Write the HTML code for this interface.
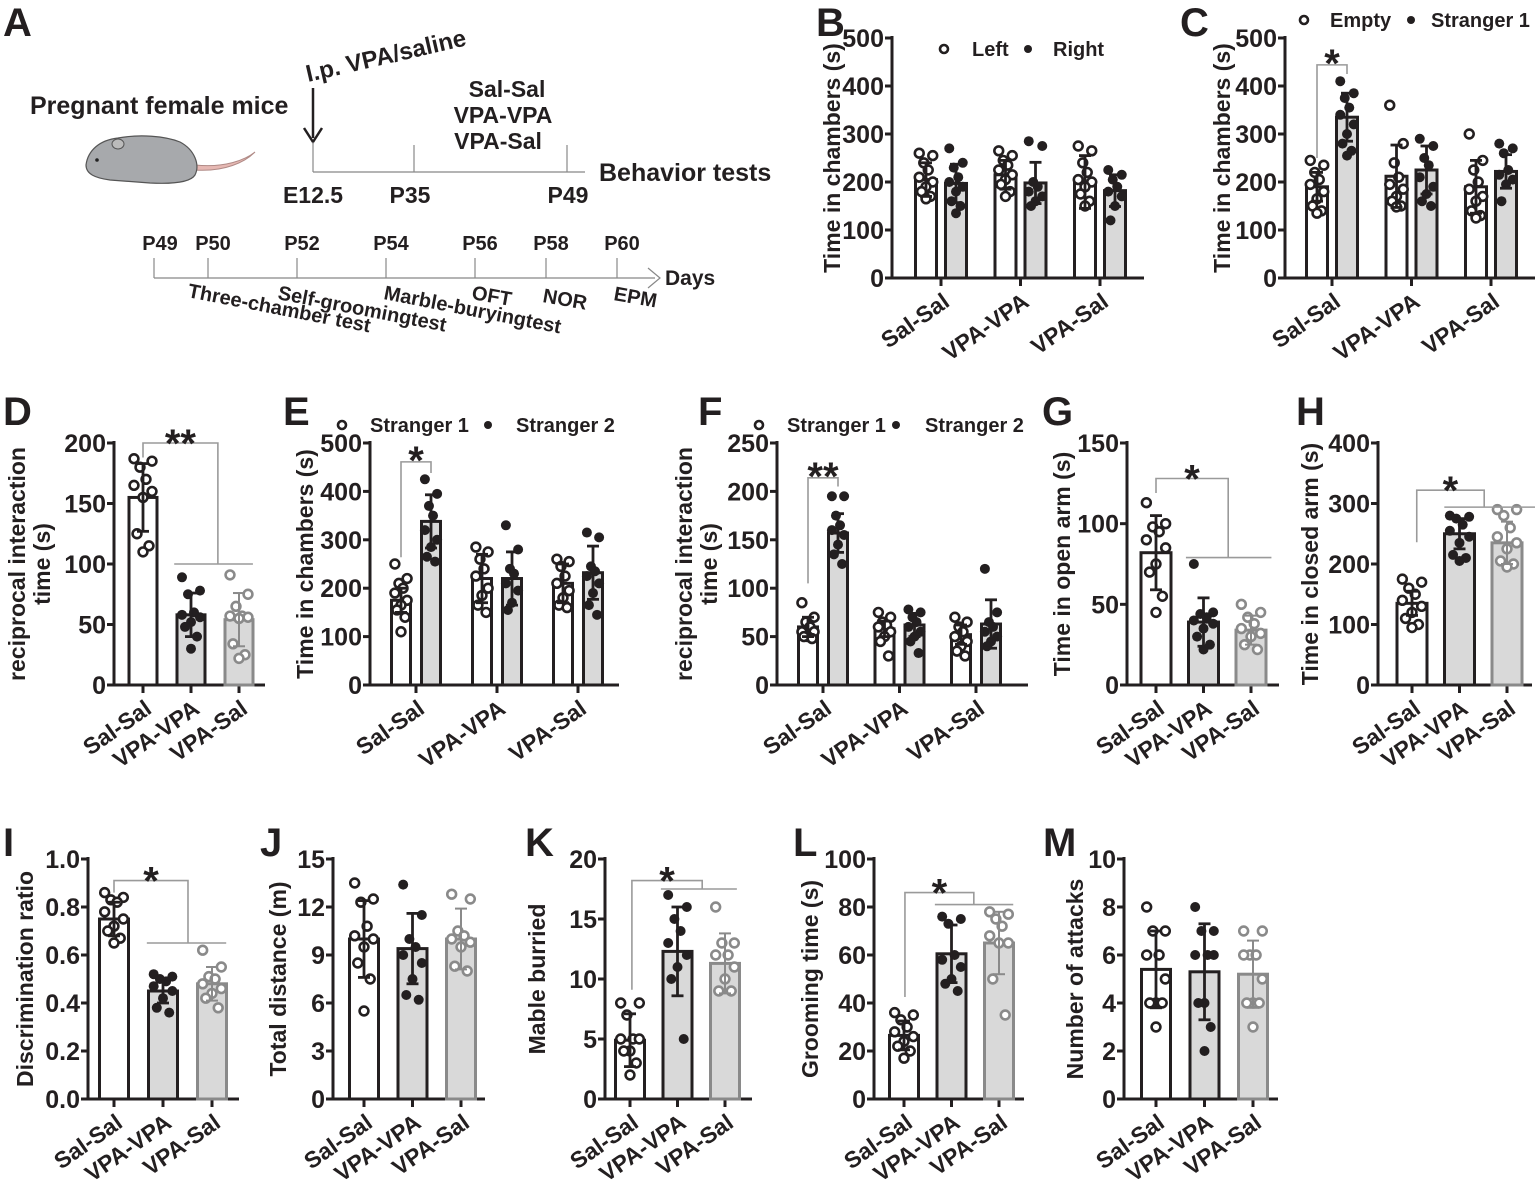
<!DOCTYPE html>
<html><head><meta charset="utf-8"><style>
html,body{margin:0;padding:0;background:#fff;}
svg{display:block;font-family:"Liberation Sans",Arial,sans-serif;}
.t{font-weight:bold;fill:#231f20;}
</style></head><body>
<svg id="fig" width="1535" height="1185" viewBox="0 0 1535 1185" xmlns="http://www.w3.org/2000/svg">
<g id="panelA">
  <text class="t" x="3" y="36" font-size="40">A</text>
  <text class="t" x="30" y="114" font-size="25" fill="#333">Pregnant female mice</text>
  <g>
    <path d="M195,165 C225,168 245,160 255,152 C245,162 225,172 195,170 Z" fill="#e6b8b3" stroke="#b08a86" stroke-width="1"/>
    <path d="M86,165 C88,150 100,140 118,138 C140,134 165,136 180,142 C195,150 200,165 195,175 C190,183 170,184 150,183 L110,180 C95,178 86,174 86,165 Z" fill="#a7a9ac" stroke="#555" stroke-width="1.2"/>
    <ellipse cx="118" cy="144" rx="6" ry="5" fill="#bbb" stroke="#555"/>
    <circle cx="97" cy="160" r="1.8" fill="#222"/>
  </g>
  <text class="t" x="308" y="82" font-size="24" fill="#333" transform="rotate(-13 308 82)">I.p. VPA/saline</text>
  <line x1="313" y1="88" x2="313" y2="138" stroke="#231f20" stroke-width="2.5"/>
  <path d="M304,128 L313,142 L322,128" fill="none" stroke="#231f20" stroke-width="2.5"/>
  <g stroke="#888" stroke-width="1.2">
    <line x1="313" y1="172" x2="585" y2="172"/>
    <line x1="313" y1="142" x2="313" y2="172"/>
    <line x1="414" y1="145" x2="414" y2="172"/>
    <line x1="567" y1="145" x2="567" y2="172"/>
  </g>
  <g class="t" font-size="23" fill="#333" text-anchor="middle">
    <text x="507" y="97">Sal-Sal</text>
    <text x="503" y="123">VPA-VPA</text>
    <text x="498" y="149">VPA-Sal</text>
    <text x="313" y="203">E12.5</text>
    <text x="410" y="203">P35</text>
    <text x="568" y="203">P49</text>
  </g>
  <text class="t" x="599" y="181" font-size="25" fill="#333">Behavior tests</text>
  <g stroke="#888" stroke-width="1.2">
    <line x1="154" y1="278" x2="655" y2="278"/>
    <path d="M648,268 L660,278 L648,288" fill="none"/>
    <line x1="154" y1="258" x2="154" y2="278"/><line x1="208" y1="258" x2="208" y2="278"/>
    <line x1="297" y1="258" x2="297" y2="278"/><line x1="386" y1="258" x2="386" y2="278"/>
    <line x1="475" y1="258" x2="475" y2="278"/><line x1="546" y1="258" x2="546" y2="278"/>
    <line x1="617" y1="258" x2="617" y2="278"/>
  </g>
  <g class="t" font-size="20" fill="#333" text-anchor="middle">
    <text x="160" y="250">P49</text><text x="213" y="250">P50</text><text x="302" y="250">P52</text>
    <text x="391" y="250">P54</text><text x="480" y="250">P56</text><text x="551" y="250">P58</text><text x="622" y="250">P60</text>
  </g>
  <text class="t" x="665" y="285" font-size="21" fill="#333">Days</text>
  <g class="t" font-size="20" fill="#333">
    <text x="187" y="297" transform="rotate(11 187 297)">Three-chamber test</text>
    <text x="277" y="299" transform="rotate(11 277 299)">Self-groomingtest</text>
    <text x="383" y="299" transform="rotate(11 383 299)">Marble-buryingtest</text>
    <text x="471" y="299" transform="rotate(10 471 299)">OFT</text>
    <text x="542" y="302" transform="rotate(10 542 302)">NOR</text>
    <text x="613" y="300" transform="rotate(10 613 300)">EPM</text>
  </g>
</g>
<g id="charts"></g>
</svg>
<script>
const cats = ['Sal-Sal','VPA-VPA','VPA-Sal'];
// B
const bTicks=[0,100,200,300,400,500];
const bMeansL=[205,215,200], bSdL=[35,30,55];
const bMeansR=[197,198,182], bSdR=[40,43,33];
const bPtsL=[[260,255,240,225,210,200,190,180,170,165],[265,255,245,235,225,215,205,195,180,170],[275,265,240,220,205,200,190,175,160,150]];
const bPtsR=[[270,240,230,210,200,190,180,160,150,135],[285,275,200,190,180,170,160,150],[225,215,205,190,180,170,150,120]];
// C
const cTicks=[0,100,200,300,400,500];
const cMeansE=[190,212,190], cSdE=[30,65,55];
const cMeansS=[335,225,222], cSdS=[50,50,35];
const cPtsE=[[245,235,220,205,195,180,165,150,140,135],[360,280,240,210,195,185,170,160,150,148],[300,245,225,200,185,170,160,140,130,125]];
const cPtsS=[[410,385,375,355,340,320,300,280,265,255],[290,275,250,235,210,190,175,160,150],[280,270,260,225,215,205,195,160]];
// D
const dTicks=[0,50,100,150,200];
const dMeans=[155,58,54], dSd=[28,18,22];
const dPts=[[187,185,180,170,165,160,155,125,115,110],[89,78,75,60,58,56,52,48,40,30],[91,75,65,57,57,56,55,34,25,22]];
// E
const eTicks=[0,100,200,300,400,500];
const eMeans1=[175,220,210], eSd1=[25,50,40];
const eMeans2=[338,220,232], eSd2=[55,55,55];
const ePts1=[[250,220,210,200,190,175,165,155,140,110],[285,275,260,240,225,200,185,165,150],[260,255,245,225,210,195,180,165,160]];
const ePts2=[[425,395,370,350,320,300,285,265,255],[330,280,240,230,210,195,170,155],[315,305,245,235,225,210,190,165,145]];
// F
const fTicks=[0,50,100,150,200,250];
const fMeans1=[60,58,52], fSd1=[10,8,10];
const fMeans2=[157,62,63], fSd2=[20,12,25];
const fPts1=[[85,70,65,60,55,55,50,50,48],[75,70,65,62,60,55,50,45,30],[70,65,60,55,50,45,40,35,30]];
const fPts2=[[195,195,175,165,160,155,145,135,125],[78,75,70,65,60,55,50,45,33],[120,75,65,60,55,50,45,40]];
// G
const gTicks=[0,50,100,150];
const gMeans=[82,39,34], gSd=[23,15,9];
const gPts=[[113,100,98,95,90,85,75,70,55,45],[75,45,44,42,40,38,35,30,25,22],[50,45,42,38,35,32,30,25,22]];
// H
const hTicks=[0,100,200,300,400];
const hMeans=[135,250,235], hSd=[20,25,35];
const hPts=[[175,170,160,150,140,130,120,110,100,95],[280,278,275,265,255,245,235,215,210,205],[290,290,280,260,245,235,225,205,200,195]];
// I
const iTicks=['0.0','0.2','0.4','0.6','0.8','1.0'];
const iMeans=[0.75,0.45,0.48], iSd=[0.07,0.05,0.07];
const iPts=[[0.86,0.84,0.83,0.82,0.78,0.75,0.72,0.70,0.67,0.65],[0.52,0.51,0.50,0.49,0.47,0.45,0.42,0.38,0.36],[0.62,0.55,0.51,0.50,0.48,0.46,0.44,0.42,0.38]];
// J
const jTicks=[0,3,6,9,12,15];
const jMeans=[10,9.4,10], jSd=[2.4,2.2,1.9];
const jPts=[[13.5,12.5,12.3,10.8,10.2,10.0,9.5,8.5,7.5,5.5],[13.4,11.5,10,9.5,9,8.5,7.5,6.5,6.2],[12.8,12.5,10.5,10.2,10.0,9.8,9.5,8.3,8.0]];
// K
const kTicks=[0,5,10,15,20];
const kMeans=[4.9,12.3,11.3], kSd=[2.2,3.7,2.5];
const kPts=[[8,8,7,5,5,5,4,4,3,2],[17,16,15,14,13,12,11,10,5],[16,13,13,12,12,11,10,9,9]];
// L
const lTicks=[0,20,40,60,80,100];
const lMeans=[26.5,60.5,65], lSd=[6,12,13];
const lPts=[[36,35,33,30,28,26,24,22,20,17],[76,75,73,60,58,55,50,48,45],[78,77,75,72,68,65,65,50,35]];
// M
const mTicks=[0,2,4,6,8,10];
const mMeans=[5.4,5.3,5.2], mSd=[1.6,2,1.4];
const mPts=[[8,7,7,6,6,5,4,4,4,3],[8,7,7,6,6,6,4,4,3,2],[7,7,6,6,6,5,4,4,4,3]];

const NS='http://www.w3.org/2000/svg';
const root=document.getElementById('charts');
function mk(tag,attrs,parent){const e=document.createElementNS(NS,tag);for(const k in attrs)e.setAttribute(k,attrs[k]);(parent||root).appendChild(e);return e;}
const DARK='#231f20', GRAY='#8a8a8a', FILL='#d9d9d9', BR='#9a9a9a';
const jit=[-9,9,-3,3,-9,9,0,-6,6,0,-9,9];

function makeScale(p){
  p.y=v=>p.yBot-(v/p.ymax)*(p.yBot-p.yTop);
  p.xc=i=>p.first+i*p.step;
}
function axes(p,g){
  mk('line',{x1:p.x0,y1:p.yTop-2,x2:p.x0,y2:p.yBot,stroke:DARK,'stroke-width':3},g);
  mk('line',{x1:p.x0-1.5,y1:p.yBot,x2:p.xEnd,y2:p.yBot,stroke:DARK,'stroke-width':3},g);
  p.ticks.forEach(t=>{
    const v=parseFloat(t), yy=p.y(v);
    mk('line',{x1:p.x0-7,y1:yy,x2:p.x0,y2:yy,stroke:DARK,'stroke-width':3},g);
    const tx=mk('text',{x:p.x0-8,y:yy+9,'text-anchor':'end','font-size':25,class:'t'},g);tx.textContent=t;
  });
  cats.forEach((c,i)=>{
    const x=p.xc(i);
    mk('line',{x1:x,y1:p.yBot,x2:x,y2:p.yBot+8,stroke:DARK,'stroke-width':3},g);
    const tx=mk('text',{x:x+10,y:p.yBot+27,'text-anchor':'end','font-size':23,class:'t',transform:`rotate(-35 ${x+10} ${p.yBot+27})`},g);
    tx.textContent=c;
    
    
  });
  const ty=mk('text',{x:0,y:0,'text-anchor':'middle','font-size':23,class:'t',transform:`translate(${p.titleX},${(p.yTop+p.yBot)/2}) rotate(-90)`},g);
  if(p.title2){ty.textContent=p.title;const t2=mk('text',{x:0,y:0,'text-anchor':'middle','font-size':23,class:'t',transform:`translate(${p.titleX+25},${(p.yTop+p.yBot)/2}) rotate(-90)`},g);t2.textContent=p.title2;}
  else ty.textContent=p.title;
  
  
  const L=mk('text',{x:p.letter[0],y:p.letter[1],'font-size':40,class:'t'},g);L.textContent=p.id;
  
  
}
function bar(p,g,x,w,mean,sd,pts,style,name){
  const stroke=style==='gray'?GRAY:DARK, fill=style==='open'?'#fff':FILL;
  const yy=p.y(mean);
  const r=mk('rect',{x:x-w/2,y:yy,width:w,height:p.yBot-yy,fill:fill,stroke:stroke,'stroke-width':3},g);
  
  
  pts.forEach((v,k)=>{
    const cx=x+jit[k%jit.length]*w/28;
    const c=mk('circle',{cx:cx,cy:p.y(v),r:4.4,fill:style==='dots'?DARK:'#fff',stroke:style==='gray'?GRAY:DARK,'stroke-width':style==='dots'?0:2.6},g);
    if(style==='dots')c.setAttribute('r',5);
    
    
  });
  const lw=style==='gray'?2:2.8;
  mk('line',{x1:x,y1:p.y(mean-sd),x2:x,y2:p.y(mean+sd),stroke:stroke,'stroke-width':lw},g);
  mk('line',{x1:x-6,y1:p.y(mean+sd),x2:x+6,y2:p.y(mean+sd),stroke:stroke,'stroke-width':lw},g);
  mk('line',{x1:x-6,y1:p.y(mean-sd),x2:x+6,y2:p.y(mean-sd),stroke:stroke,'stroke-width':lw},g);
}
function star(g,x,y,s){const t=mk('text',{x:x,y:y,'text-anchor':'middle','font-size':40,class:'t'},g);t.textContent=s;}

function three(p,means,sds,pts,br){
  makeScale(p);
  const g=mk('g',{});
  
  
  axes(p,g);
  const styles=['open','dots','gray'];
  means.forEach((m,i)=>{
    bar(p,g,p.xc(i),p.barW,m,sds[i],pts[i],styles[i],'bar-'+cats[i].toLowerCase());
  });
  if(br){
    const xl=p.first+br.left*p.step, xm=p.first+br.mid*p.step;
    const a=p.first+br.l1*p.step, b=p.first+br.l2*p.step;
    const yt=p.y(br.top), yl=p.y(br.lv), yr=p.y(br.low);
    mk('path',{d:`M${xl},${yl} L${xl},${yt} L${xm},${yt} L${xm},${yr}`,fill:'none',stroke:BR,'stroke-width':1.6},g);
    mk('line',{x1:a,y1:yr,x2:b,y2:yr,stroke:BR,'stroke-width':1.6},g);
    star(g,(xl+xm)/2,yt+14,br.s);
  }
}
function grouped(p,m1,s1,p1,m2,s2,p2,leg,br){
  makeScale(p);
  const g=mk('g',{});
  
  
  axes(p,g);
  m1.forEach((m,i)=>{
    bar(p,g,p.xc(i)-p.off,p.barW,m,s1[i],p1[i],'open','bar-'+cats[i].toLowerCase()+'-'+leg[1].toLowerCase().replace(' ','-'));
    bar(p,g,p.xc(i)+p.off,p.barW,m2[i],s2[i],p2[i],'dots','bar-'+cats[i].toLowerCase()+'-'+leg[2].toLowerCase().replace(' ','-'));
  });
  const lg=mk('g',{},g);
  
  
  mk('circle',{cx:leg[0][0],cy:leg[0][1]-7,r:4,fill:'#fff',stroke:DARK,'stroke-width':2.6},lg);
  const t1=mk('text',{x:leg[0][0]+leg[3],y:leg[0][1],'font-size':20,class:'t'},lg);t1.textContent=leg[1];
  mk('circle',{cx:leg[0][0]+leg[4],cy:leg[0][1]-7,r:4,fill:DARK},lg);
  const t2=mk('text',{x:leg[0][0]+leg[4]+leg[5],y:leg[0][1],'font-size':20,class:'t'},lg);t2.textContent=leg[2];
  if(br){
    const xl=p.xc(0)-p.off, xr=p.xc(0)+p.off;
    const yt=p.y(br.top);
    mk('path',{d:`M${xl},${p.y(br.lv)} L${xl},${yt} L${xr},${yt} L${xr},${p.y(br.rv)}`,fill:'none',stroke:BR,'stroke-width':1.6},g);
    star(g,(xl+xr)/2,yt+12,br.s);
  }
}

grouped({id:'B',x0:892,xEnd:1144,yTop:38,yBot:278,ymax:500,ticks:bTicks,first:941,step:79.5,barW:21,off:15,titleX:840,title:'Time in chambers (s)',letter:[816,36]},
  bMeansL,bSdL,bPtsL,bMeansR,bSdR,bPtsR,[[944,56],'Left','Right',28,84,25],null);
grouped({id:'C',x0:1285,xEnd:1535,yTop:38,yBot:278,ymax:500,ticks:cTicks,first:1332,step:79.5,barW:21,off:15,titleX:1230,title:'Time in chambers (s)',letter:[1180,36]},
  cMeansE,cSdE,cPtsE,cMeansS,cSdS,cPtsS,[[1304,27],'Empty','Stranger 1',26,107,20],{top:444,lv:250,rv:425,s:'*'});
three({id:'D',x0:114,xEnd:265,yTop:443,yBot:685,ymax:200,ticks:dTicks,first:143,step:48,barW:28,titleX:25,title:'reciprocal  interaction',title2:'time (s)',letter:[3,425]},
  dMeans,dSd,dPts,{left:0,mid:1.56,l1:0.65,l2:2.29,top:200,lv:188,low:100,s:'**'});
grouped({id:'E',x0:370,xEnd:619,yTop:443,yBot:685,ymax:500,ticks:eTicks,first:416,step:81,barW:19,off:15,titleX:313,title:'Time in chambers (s)',letter:[283,425]},
  eMeans1,eSd1,ePts1,eMeans2,eSd2,ePts2,[[342,432],'Stranger 1','Stranger 2',28,146,28],{top:461,lv:264,rv:438,s:'*'});
grouped({id:'F',x0:777,xEnd:1028,yTop:443,yBot:685,ymax:250,ticks:fTicks,first:823,step:76.5,barW:19,off:15,titleX:692,title:'reciprocal  interaction',title2:'time (s)',letter:[698,425]},
  fMeans1,fSd1,fPts1,fMeans2,fSd2,fPts2,[[759,432],'Stranger 1','Stranger 2',28,137,29],{top:214,lv:105,rv:205,s:'**'});
three({id:'G',x0:1127,xEnd:1279,yTop:443,yBot:685,ymax:150,ticks:gTicks,first:1156,step:47.5,barW:30,titleX:1070,title:'Time in open arm (s)',letter:[1042,425]},
  gMeans,gSd,gPts,{left:0,mid:1.52,l1:0.63,l2:2.43,top:128,lv:119,low:79,s:'*'});
three({id:'H',x0:1378,xEnd:1532,yTop:443,yBot:685,ymax:400,ticks:hTicks,first:1412,step:47.5,barW:30,titleX:1318,title:'Time in closed arm (s)',letter:[1296,425]},
  hMeans,hSd,hPts,{left:0.1,mid:1.52,l1:0.68,l2:2.65,top:322,lv:236,low:294,s:'*'});
three({id:'I',x0:88,xEnd:239,yTop:859,yBot:1099,ymax:1,ticks:iTicks,first:114,step:49,barW:29,titleX:33,title:'Discrimination ratio',letter:[3,856]},
  iMeans,iSd,iPts,{left:0,mid:1.51,l1:0.67,l2:2.29,top:0.91,lv:0.86,low:0.65,s:'*'});
three({id:'J',x0:333,xEnd:485,yTop:859,yBot:1099,ymax:15,ticks:jTicks,first:364,step:48.5,barW:29,titleX:286,title:'Total distance (m)',letter:[260,856]},
  jMeans,jSd,jPts,null);
three({id:'K',x0:605,xEnd:752,yTop:859,yBot:1099,ymax:20,ticks:kTicks,first:630,step:47.5,barW:29,titleX:545,title:'Mable burried',letter:[525,856]},
  kMeans,kSd,kPts,{left:0.04,mid:1.52,l1:0.65,l2:2.25,top:18.2,lv:9.1,low:17.5,s:'*'});
three({id:'L',x0:874,xEnd:1024,yTop:859,yBot:1099,ymax:100,ticks:lTicks,first:904,step:47.5,barW:29,titleX:818,title:'Grooming time (s)',letter:[793,856]},
  lMeans,lSd,lPts,{left:0.02,mid:1.47,l1:0.65,l2:2.3,top:86,lv:42.5,low:81,s:'*'});
three({id:'M',x0:1124,xEnd:1278,yTop:859,yBot:1099,ymax:10,ticks:mTicks,first:1156,step:48.5,barW:29,titleX:1083,title:'Number of attacks',letter:[1043,856]},
  mMeans,mSd,mPts,null);
</script>
</body></html>
